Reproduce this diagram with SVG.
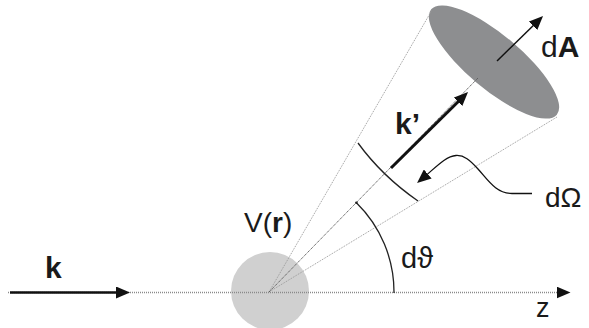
<svg xmlns="http://www.w3.org/2000/svg" width="589" height="328" viewBox="0 0 589 328">
  <style>
    .lbl { font-family: "Liberation Sans", "DejaVu Sans", Arial, sans-serif; fill: #1a1a1a; }
    .dotted { fill: none; stroke: #8a8a8a; stroke-width: 1.4; stroke-dasharray: 1 1; }
    .cone { fill: none; stroke: #9a9a9a; stroke-width: 1; stroke-dasharray: 1 1; }
    .axis { fill: none; stroke: #555; stroke-width: 1; stroke-dasharray: 1.2 0.8; }
    .arc { fill: none; stroke: #222; stroke-width: 1.3; }
    .arrow { fill: none; stroke: #111; }
  </style>
  <defs>
    <marker id="head" viewBox="0 0 14 12" refX="4" refY="6" markerWidth="14" markerHeight="12" markerUnits="userSpaceOnUse" orient="auto">
      <path d="M0,0 L14,6 L0,12 z" fill="#111"/>
    </marker>
  </defs>
  <rect width="589" height="328" fill="#ffffff"/>

  <g id="scatterer">
    <circle cx="270" cy="291" r="39" fill="#d0d0d0"/>
  </g>

  <g id="surface">
    <ellipse cx="494" cy="62" rx="82" ry="27" transform="rotate(40 494 62)" fill="#8d8e90"/>
  </g>

  <g id="connectors">
    <path class="dotted" d="M8,292.5 L560.5,292.5" marker-end="url(#head)"/>
    <path class="arrow" stroke-width="2.5" d="M10,292.5 L120,292.5" marker-end="url(#head)"/>
    <path class="cone" d="M269,292 L432,10"/>
    <path class="cone" d="M269,292 L557,117"/>
    <path class="axis" d="M269,292 L478,78"/>
    <path class="arrow" stroke-width="3" d="M391,168 L460.9,99" marker-end="url(#head)"/>
    <path class="arrow" stroke-width="1.5" d="M497,61 L535.9,23" marker-end="url(#head)"/>
    <path class="arc" d="M358,143 Q382,176 418,201"/>
    <path class="arc" d="M394,293 A125,125 0 0 0 356.4,202.7"/>
    <circle cx="356.4" cy="202.7" r="1.3" fill="#222"/>
    <path class="arrow" stroke-width="1.3" d="M532,193.5 L512,193.5 C496,193.5 488,180 478,169 C470,160 464,155 456,155.5 C446,156 436,167 424.7,176.6" marker-end="url(#head)"/>
  </g>

  <g id="labels">
    <text class="lbl" x="45" y="278" font-size="30" font-weight="bold">k</text>
    <text class="lbl" x="244" y="231.5" font-size="28">V(<tspan font-weight="bold">r</tspan>)</text>
    <text class="lbl" x="395" y="133.5" font-size="30" font-weight="bold">k’</text>
    <text class="lbl" x="541" y="56.5" font-size="30">d<tspan font-weight="bold">A</tspan></text>
    <text class="lbl" x="545" y="206.5" font-size="28">dΩ</text>
    <text class="lbl" x="401" y="268" font-size="29">dϑ</text>
    <text class="lbl" x="536" y="316.5" font-size="27">z</text>
  </g>
</svg>
